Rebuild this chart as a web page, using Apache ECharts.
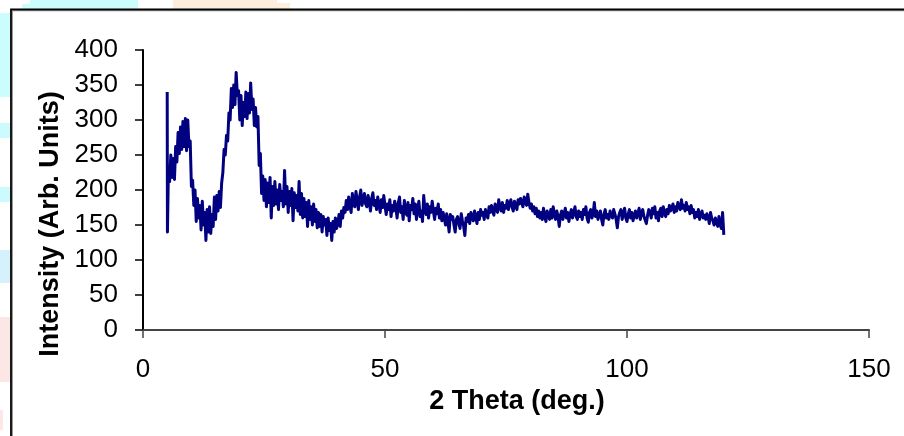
<!DOCTYPE html>
<html>
<head>
<meta charset="utf-8">
<script src="https://cdn.jsdelivr.net/npm/echarts@6/dist/echarts.min.js"></script>
<style>
html,body{margin:0;padding:0;background:#fff;}
#chart{width:904px;height:436px;}
</style>
</head>
<body>
<div id="chart"></div>
<script>
// 2 Theta (deg.)
const theta = [
  5, 5.05, 5.25, 5.5, 5.75, 6, 6.25, 6.5,
  6.75, 7, 7.25, 7.5, 7.75, 8, 8.25, 8.5,
  8.75, 9, 9.25, 9.5, 9.75, 10, 10.25, 10.5,
  10.75, 11, 11.25, 11.5, 11.75, 12, 12.25, 12.5,
  12.75, 13, 13.25, 13.5, 13.75, 14, 14.25, 14.5,
  14.75, 15, 15.25, 15.5, 15.75, 16, 16.25, 16.5,
  16.75, 17, 17.25, 17.5, 17.75, 18, 18.25, 18.5,
  18.75, 19, 19.25, 19.5, 19.75, 20, 20.25, 20.5,
  20.75, 21, 21.25, 21.5, 21.75, 22, 22.25, 22.5,
  22.75, 23, 23.25, 23.5, 23.75, 24, 24.25, 24.5,
  24.75, 25, 25.25, 25.5, 25.75, 26, 26.25, 26.5,
  26.75, 27, 27.25, 27.5, 27.75, 28, 28.25, 28.5,
  28.75, 29, 29.25, 29.5, 29.75, 30, 30.25, 30.5,
  30.75, 31, 31.25, 31.5, 31.75, 32, 32.25, 32.5,
  32.75, 33, 33.25, 33.5, 33.75, 34, 34.25, 34.5,
  34.75, 35, 35.25, 35.5, 35.75, 36, 36.25, 36.5,
  36.75, 37, 37.25, 37.5, 37.75, 38, 38.25, 38.5,
  38.75, 39, 39.25, 39.5, 39.75, 40,
  40.25, 40.5, 40.75, 41, 41.25, 41.5, 41.75, 42,
  42.25, 42.5, 42.75, 43, 43.25, 43.5, 43.75, 44,
  44.25, 44.5, 44.75, 45, 45.25, 45.5, 45.75, 46,
  46.25, 46.5, 46.75, 47, 47.25, 47.5, 47.75, 48,
  48.25, 48.5, 48.75, 49, 49.25, 49.5, 49.75, 50,
  50.25, 50.5, 50.75, 51, 51.25, 51.5, 51.75, 52,
  52.25, 52.5, 52.75, 53, 53.25, 53.5, 53.75, 54,
  54.25, 54.5, 54.75, 55, 55.25, 55.5, 55.75, 56,
  56.25, 56.5, 56.75, 57, 57.25, 57.5, 57.75, 58,
  58.25, 58.5, 58.75, 59, 59.25, 59.5, 59.75, 60,
  60.25, 60.5, 60.75, 61, 61.25, 61.5, 61.75, 62,
  62.25, 62.5, 62.75, 63, 63.25, 63.5, 63.75, 64,
  64.25, 64.5, 64.75, 65, 65.25, 65.5, 65.75, 66,
  66.25, 66.5, 66.75, 67, 67.25, 67.5, 67.75, 68,
  68.25, 68.5, 68.75, 69, 69.25, 69.5, 69.75, 70,
  70.25, 70.5, 70.75, 71, 71.25, 71.5, 71.75, 72,
  72.25, 72.5, 72.75, 73, 73.25, 73.5, 73.75, 74,
  74.25, 74.5, 74.75, 75, 75.25, 75.5, 75.75, 76,
  76.25, 76.5, 76.75, 77, 77.25, 77.5, 77.75, 78,
  78.25, 78.5, 78.75, 79, 79.25, 79.5, 79.75, 80,
  80.25, 80.5, 80.75, 81, 81.25, 81.5, 81.75, 82,
  82.25, 82.5, 82.75, 83, 83.25, 83.5, 83.75, 84,
  84.25, 84.5, 84.75, 85, 85.25, 85.5, 85.75, 86,
  86.25, 86.5, 86.75, 87, 87.25, 87.5, 87.75, 88,
  88.25, 88.5, 88.75, 89, 89.25, 89.5, 89.75, 90,
  90.25, 90.5, 90.75, 91, 91.25, 91.5, 91.75, 92,
  92.25, 92.5, 92.75, 93, 93.25, 93.5, 93.75, 94,
  94.25, 94.5, 94.75, 95, 95.25, 95.5, 95.75, 96,
  96.25, 96.5, 96.75, 97, 97.25, 97.5, 97.75, 98,
  98.25, 98.5, 98.75, 99, 99.25, 99.5, 99.75, 100,
  100.25, 100.5, 100.75, 101, 101.25, 101.5, 101.75, 102,
  102.25, 102.5, 102.75, 103, 103.25, 103.5, 103.75, 104,
  104.25, 104.5, 104.75, 105, 105.25, 105.5, 105.75, 106,
  106.25, 106.5, 106.75, 107, 107.25, 107.5, 107.75, 108,
  108.25, 108.5, 108.75, 109, 109.25, 109.5, 109.75, 110,
  110.25, 110.5, 110.75, 111, 111.25, 111.5, 111.75, 112,
  112.25, 112.5, 112.75, 113, 113.25, 113.5, 113.75, 114,
  114.25, 114.5, 114.75, 115, 115.25, 115.5, 115.75, 116,
  116.25, 116.5, 116.75, 117, 117.25, 117.5, 117.75, 118,
  118.25, 118.5, 118.75, 119, 119.25, 119.5, 119.75, 120
];
// Intensity (Arb. Units)
const intensity = [
  340, 140, 228, 212, 250, 218, 245, 215,
  262, 240, 282, 252, 290, 258, 298, 262,
  302, 256, 300, 262, 270, 205, 214, 178,
  200, 155, 188, 160, 178, 143, 184, 150,
  168, 128, 172, 140, 176, 138, 165, 148,
  190, 158, 192, 170, 198, 175, 210, 225,
  258, 250, 278, 270, 310, 300, 345, 318,
  350, 322, 368, 335, 342, 300, 335, 292,
  325, 305, 340, 302, 338, 310, 353, 315,
  330, 292, 318, 290, 305, 235, 252, 195,
  220, 185, 215, 176, 210, 182, 218, 160,
  205, 178, 212, 180, 200, 172, 208, 185,
  198, 176, 228, 180, 205, 168, 198, 178,
  202, 156, 196, 175, 192, 170, 212, 165,
  195, 160, 188, 162, 182, 148, 185, 158,
  176, 150, 180, 155, 172, 146, 168, 148,
  165, 140, 162, 150, 158, 135, 160, 142,
  152, 128, 155, 140, 160, 145,
  152, 165, 148, 170, 160, 175, 168, 185,
  172, 190, 178, 168, 195, 182, 176, 198,
  185, 172, 190, 200, 178, 186, 195, 180,
  176, 192, 184, 170, 188, 196, 178, 185,
  172, 190, 180, 168, 186, 175, 192, 178,
  165, 180, 172, 186, 162, 178, 170, 184,
  175, 160, 182, 190, 168, 176, 158, 185,
  170, 164, 182, 156, 178, 172, 188, 166,
  180, 158, 175, 184, 162, 170, 155, 192,
  172, 165, 180, 160, 176, 168, 184, 170,
  158, 174, 166, 180, 160, 172, 156, 168,
  160, 150, 166, 155, 140, 165, 158, 162,
  150, 140, 158, 162, 152, 145, 166, 156,
  148, 135, 160, 155, 165, 152, 168, 160,
  156, 170, 162, 152, 168, 158, 172, 164,
  168, 158, 172, 165, 160, 176, 168, 178,
  170, 164, 180, 174, 168, 186, 176, 170,
  182, 168, 178, 174, 185, 172, 180, 186,
  176, 170, 184, 178, 172, 186, 180, 188,
  182, 176, 190, 184, 178, 194, 182, 174,
  180, 170, 176, 166, 174, 162, 170, 160,
  168, 158, 174, 162, 155, 170, 164, 158,
  172, 160, 176, 165, 158, 170, 162, 148,
  164, 170, 158, 166, 174, 160, 168, 155,
  166, 172, 160, 168, 176, 162, 158, 170,
  162, 168, 158, 172, 165, 176, 160, 154,
  168, 172, 160, 166, 182, 162, 170, 158,
  164, 170, 158, 150, 166, 172, 160, 165,
  158, 170, 164, 160, 172, 166, 158, 146,
  162, 168, 172, 158, 166, 174, 160, 155,
  166, 172, 160, 168, 156, 164, 170, 160,
  166, 174, 158, 168, 172, 162, 160, 152,
  164, 172, 168, 160, 174, 166, 176, 160,
  168, 156, 170, 174, 162, 176, 168, 162,
  172, 166, 178, 170, 174, 180, 168, 176,
  170, 182, 176, 172, 186, 174, 178, 170,
  182, 172, 176, 166, 178, 168, 172, 160,
  168, 162, 172, 158, 166, 170, 160, 164,
  158, 166, 162, 152, 168, 160, 156, 150,
  160, 154, 148, 162, 150, 145, 168, 136
];
const xTicks = [0, 50, 100, 150];
const yTicks = [0, 50, 100, 150, 200, 250, 300, 350, 400];

const FONT = "'Liberation Sans', Arial, sans-serif";
const seriesData = theta.map((t, i) => [t, intensity[i]]);

const chart = echarts.init(document.getElementById('chart'), null, {renderer: 'canvas'});
chart.setOption({
  backgroundColor: '#ffffff',
  animation: false,
  graphic: [
    {type: 'rect', z: -10, shape: {x: 30, y: 0, width: 108, height: 9}, style: {fill: '#ccfdfd'}},
    {type: 'rect', z: -10, shape: {x: 22, y: 4, width: 10, height: 5}, style: {fill: '#ccfdfd'}},
    {type: 'rect', z: -10, shape: {x: 173, y: 0, width: 104, height: 9}, style: {fill: '#fdeedd'}},
    {type: 'rect', z: -10, shape: {x: 277, y: 3, width: 13, height: 6}, style: {fill: '#fdeedd'}},
    {type: 'rect', z: -10, shape: {x: 0, y: 13, width: 10, height: 84}, style: {fill: '#ccfdfd'}},
    {type: 'rect', z: -10, shape: {x: 0, y: 123, width: 10, height: 15}, style: {fill: '#ccfbfd'}},
    {type: 'rect', z: -10, shape: {x: 0, y: 187, width: 10, height: 15}, style: {fill: '#ccfbfd'}},
    {type: 'rect', z: -10, shape: {x: 0, y: 250, width: 10, height: 33}, style: {fill: '#d4f1fc'}},
    {type: 'rect', z: -10, shape: {x: 0, y: 317, width: 10, height: 65}, style: {fill: '#fde6e6'}},
    {type: 'rect', z: -10, shape: {x: 0, y: 410, width: 3, height: 20}, style: {fill: '#fde6e6'}},
    {type: 'rect', z: -5, shape: {x: 11, y: 9, width: 1000, height: 1000}, style: {fill: '#ffffff'}},
    {type: 'rect', z: 10, shape: {x: 12.5, y: 10.8, width: 1000, height: 1000}, style: {fill: 'none', stroke: '#9a9a9a', lineWidth: 1}},
    {type: 'rect', z: 11, shape: {x: 11, y: 9.5, width: 1000, height: 1000}, style: {fill: 'none', stroke: '#000000', lineWidth: 1.8}}
  ],
  grid: {left: 143, right: 35, top: 50, bottom: 106, containLabel: false},
  xAxis: {
    type: 'value', min: xTicks[0], max: xTicks[xTicks.length - 1], interval: 50,
    name: '2 Theta (deg.)', nameLocation: 'middle', nameGap: 58,
    nameTextStyle: {fontFamily: FONT, fontSize: 27, fontWeight: 'bold', color: '#000', padding: [0, 0, 0, 22]},
    axisLine: {show: true, onZero: true, lineStyle: {color: '#444444', width: 2}},
    axisTick: {show: true, inside: false, length: 8, lineStyle: {color: '#444444', width: 1.5}},
    axisLabel: {fontFamily: FONT, fontSize: 26, color: '#000', margin: 27, showMinLabel: true, showMaxLabel: true},
    splitLine: {show: false}
  },
  yAxis: {
    type: 'value', min: yTicks[0], max: yTicks[yTicks.length - 1], interval: 50,
    name: 'Intensity (Arb. Units)', nameLocation: 'middle', nameGap: 73,
    nameTextStyle: {fontFamily: FONT, fontSize: 27, fontWeight: 'bold', color: '#000', padding: [0, 68, 0, 0]},
    axisLine: {show: true, lineStyle: {color: '#000000', width: 2}},
    axisTick: {show: true, inside: false, length: 8, lineStyle: {color: '#000000', width: 1.5}},
    axisLabel: {fontFamily: FONT, fontSize: 26, color: '#000', margin: 25, showMinLabel: true, showMaxLabel: true},
    splitLine: {show: false}
  },
  series: [{
    type: 'line',
    data: seriesData,
    showSymbol: false,
    symbol: 'none',
    smooth: false,
    sampling: null,
    lineStyle: {color: '#000080', width: 3, join: 'round'},
    z: 3
  }]
});
</script>
</body>
</html>
